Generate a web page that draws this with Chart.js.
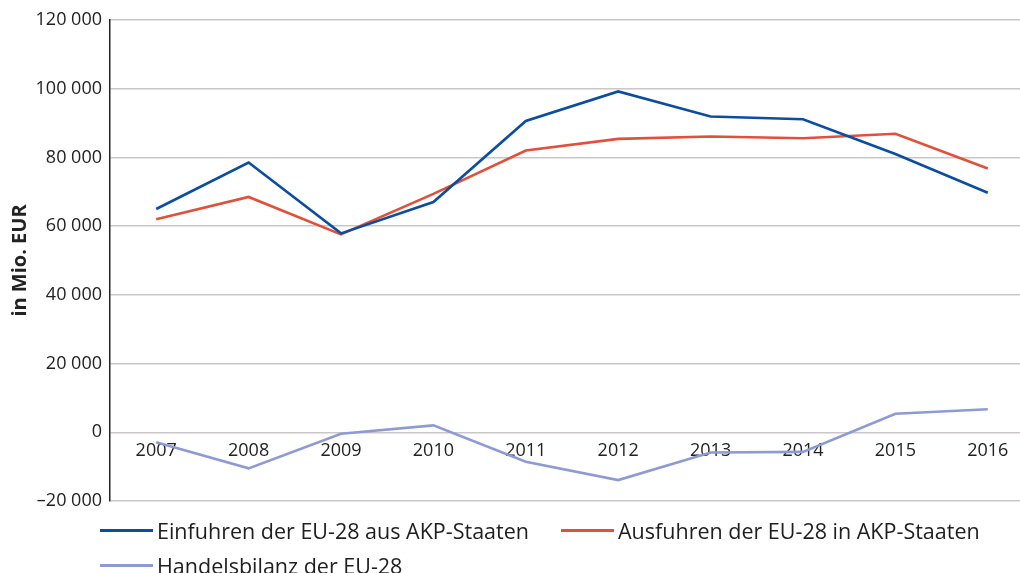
<!DOCTYPE html>
<html><head><meta charset="utf-8">
<script src="https://cdn.jsdelivr.net/npm/chart.js@4/dist/chart.umd.min.js"></script>
<style>
html,body{margin:0;padding:0;background:#fff;overflow:hidden;width:1020px;height:573px;}
#wrap{position:relative;width:1020px;height:573px;overflow:hidden;}
canvas{position:absolute;left:0;top:0;}
.leg{position:absolute;height:28px;font-family:"Open Sans";font-size:21.5px;color:#1e1e1e;white-space:nowrap;display:flex;align-items:center;}
.leg .l{display:inline-block;width:53px;height:3px;margin-right:4px;}
</style></head>
<body><div id="wrap"><canvas id="c" width="1034" height="573"></canvas><div id="legend"></div></div>
<script>
const years = ['2007','2008','2009','2010','2011','2012','2013','2014','2015','2016'];
const importsACP = [65000, 78500, 57900, 67000, 90600, 99200, 91900, 91100, 81000, 69700];
const exportsACP = [62000, 68500, 57600, 69400, 82000, 85400, 86100, 85600, 86900, 76800];
const balanceEU = [-2900, -10500, -400, 2000, -8600, -13900, -5900, -5700, 5400, 6700];
const seriesNames = ['Einfuhren der EU-28 aus AKP-Staaten', 'Ausfuhren der EU-28 in AKP-Staaten', 'Handelsbilanz der EU-28'];
const seriesColors = ['#0b4d9f', '#e0503a', '#8e9ad3'];
const axisTitle = 'in Mio. EUR';

function fmt(v){
  const s = Math.abs(v).toString().replace(/\B(?=(\d{3})+(?!\d))/g, ' ');
  return (v < 0 ? '\u2013' : '') + s;
}

const seriesData = [importsACP, exportsACP, balanceEU];
const datasets = seriesData.map((d, i) => ({
  label: seriesNames[i], data: d, borderColor: seriesColors[i], backgroundColor: seriesColors[i],
  borderWidth: 2.6, pointRadius: 0, tension: 0, fill: false
}));

new Chart(document.getElementById('c'), {
  type: 'line',
  data: { labels: years, datasets },
  options: {
    responsive: false, animation: false, devicePixelRatio: 1,
    layout: { padding: { left: 0, right: 0, top: 20, bottom: 72 } },
    plugins: { legend: { display: false }, tooltip: { enabled: false } },
    scales: {
      x: {
        type: 'category', offset: true, position: { y: 0 },
        grid: { display: false, drawTicks: false },
        border: { display: false },
        ticks: { color: '#222', font: { family: 'Open Sans', size: 18 }, padding: 8, maxRotation: 0, autoSkip: false },
        afterFit: s => { s.height = 0; }
      },
      y: {
        min: -20000, max: 120000,
        grid: { color: '#cbc6ca', lineWidth: 1.5, drawTicks: false },
        border: { display: true, color: '#222', width: 1.5 },
        ticks: { stepSize: 20000, color: '#222', font: { family: 'Open Sans', size: 18 }, padding: 8, callback: v => fmt(v) },
        title: { display: true, text: axisTitle, color: '#222', font: { family: 'Open Sans', size: 20, weight: 'bold' }, padding: { top: 8, bottom: 0 } },
        afterFit: s => { s.width = 110; }
      }
    }
  }
});

const legPos = [[100, 530], [561, 530], [100, 565]];
const legend = document.getElementById('legend');
seriesNames.forEach((n, i) => {
  const d = document.createElement('div');
  d.className = 'leg';
  d.style.left = legPos[i][0] + 'px';
  d.style.top = (legPos[i][1] - 14) + 'px';
  const l = document.createElement('span'); l.className = 'l'; l.style.background = seriesColors[i];
  const t = document.createElement('span'); t.textContent = n;
  d.appendChild(l); d.appendChild(t);
  legend.appendChild(d);
});
</script>
</body></html>
